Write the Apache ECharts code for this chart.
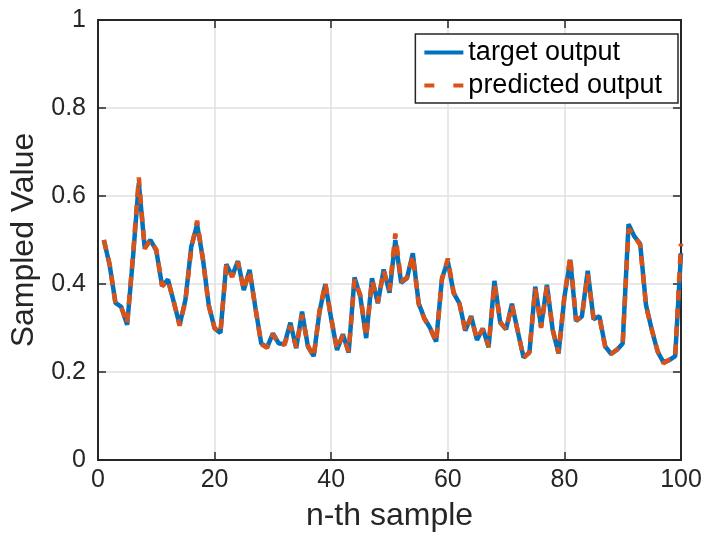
<!DOCTYPE html>
<html>
<head>
<meta charset="utf-8">
<script src="https://cdn.jsdelivr.net/npm/echarts@6/dist/echarts.min.js"></script>
<style>html,body{margin:0;padding:0;background:#fff;}#c{width:706px;height:540px;}</style>
</head>
<body>
<div id="c"></div>
<script>
var sampleIndex = [];
for (var k = 1; k <= 100; k++) sampleIndex.push(k);
var targetOutput = [
0.500,0.443,0.357,0.348,0.307,0.460,0.630,0.483,0.500,0.476,
0.395,0.410,0.359,0.307,0.364,0.485,0.535,0.457,0.352,0.299,
0.289,0.445,0.418,0.452,0.386,0.432,0.346,0.265,0.256,0.288,
0.265,0.264,0.312,0.254,0.337,0.258,0.236,0.337,0.400,0.321,
0.250,0.286,0.244,0.415,0.371,0.277,0.413,0.356,0.433,0.380,
0.500,0.403,0.413,0.470,0.356,0.322,0.299,0.269,0.413,0.452,
0.379,0.356,0.294,0.327,0.273,0.299,0.256,0.407,0.312,0.297,
0.355,0.292,0.233,0.244,0.394,0.303,0.398,0.295,0.242,0.370,
0.455,0.316,0.326,0.430,0.320,0.327,0.258,0.241,0.250,0.265,
0.536,0.508,0.491,0.352,0.295,0.246,0.222,0.227,0.236,0.470
];
var predictedOutput = [
0.500,0.445,0.355,0.346,0.310,0.465,0.642,0.480,0.500,0.478,
0.395,0.408,0.360,0.305,0.362,0.480,0.544,0.455,0.350,0.300,
0.289,0.443,0.416,0.450,0.387,0.430,0.345,0.263,0.255,0.286,
0.264,0.262,0.305,0.256,0.330,0.260,0.234,0.340,0.402,0.322,
0.252,0.284,0.246,0.410,0.375,0.280,0.408,0.358,0.430,0.385,
0.515,0.405,0.415,0.465,0.355,0.320,0.298,0.268,0.410,0.458,
0.381,0.355,0.293,0.325,0.275,0.298,0.258,0.400,0.314,0.296,
0.352,0.293,0.232,0.245,0.390,0.300,0.395,0.296,0.243,0.372,
0.462,0.318,0.325,0.422,0.322,0.325,0.257,0.241,0.251,0.263,
0.525,0.510,0.488,0.350,0.296,0.247,0.220,0.228,0.235,0.492
];
var xTicks = [0, 20, 40, 60, 80, 100];
var yTicks = [0, 0.2, 0.4, 0.6, 0.8, 1];
var seriesNames = ['target output', 'predicted output'];

function pairs(vals) { return sampleIndex.map(function (x, i) { return [x, vals[i]]; }); }

var chart = echarts.init(document.getElementById('c'), null, {renderer: 'canvas'});
var font = 'Liberation Sans, Arial, Helvetica, sans-serif';
var axisCol = '#262626';
var option = {
  backgroundColor: '#fff',
  animation: false,
  grid: {left: 98, right: 25, top: 20, bottom: 80, containLabel: false},
  legend: {
    orient: 'vertical', top: 34, right: 28,
    data: [{name: seriesNames[0]}, {name: seriesNames[1], lineStyle: {type: [10, 19]}}],
    backgroundColor: '#fff', borderColor: '#262626', borderWidth: 1.5,
    padding: [5, 16, 4, 7], itemGap: 6, itemWidth: 39, itemHeight: 14,
    itemStyle: {opacity: 0},
    lineStyle: {width: 4},
    textStyle: {fontFamily: font, fontSize: 27, color: '#000'}
  },
  xAxis: [{
    type: 'value', min: xTicks[0], max: xTicks[xTicks.length - 1], interval: 20,
    name: 'n-th sample', nameLocation: 'middle', nameGap: 40,
    nameTextStyle: {fontFamily: font, fontSize: 32, color: axisCol},
    axisLine: {show: true, onZero: false, lineStyle: {color: axisCol, width: 2}},
    axisTick: {show: true, inside: true, length: 8, lineStyle: {color: axisCol, width: 1.5}},
    axisLabel: {fontFamily: font, fontSize: 25, color: axisCol, margin: 8},
    splitLine: {show: true, lineStyle: {color: '#e0e0e0', width: 1.5}}
  }, {
    type: 'value', position: 'top', min: 0, max: 100, interval: 20,
    axisLine: {show: true, onZero: false, lineStyle: {color: axisCol, width: 2}},
    axisTick: {show: true, inside: true, length: 8, lineStyle: {color: axisCol, width: 1.5}},
    axisLabel: {show: false}, splitLine: {show: false}
  }],
  yAxis: [{
    type: 'value', min: yTicks[0], max: yTicks[yTicks.length - 1], interval: 0.2,
    name: 'Sampled Value', nameLocation: 'middle', nameGap: 50,
    nameTextStyle: {fontFamily: font, fontSize: 32, color: axisCol},
    axisLine: {show: true, onZero: false, lineStyle: {color: axisCol, width: 2}},
    axisTick: {show: true, inside: true, length: 8, lineStyle: {color: axisCol, width: 1.5}},
    axisLabel: {fontFamily: font, fontSize: 25, color: axisCol, margin: 12},
    splitLine: {show: true, lineStyle: {color: '#e0e0e0', width: 1.5}}
  }, {
    type: 'value', position: 'right', min: 0, max: 1, interval: 0.2,
    axisLine: {show: true, onZero: false, lineStyle: {color: axisCol, width: 2}},
    axisTick: {show: true, inside: true, length: 8, lineStyle: {color: axisCol, width: 1.5}},
    axisLabel: {show: false}, splitLine: {show: false}
  }],
  series: [{
    name: seriesNames[0], type: 'line', data: pairs(targetOutput),
    symbol: 'none', z: 3,
    lineStyle: {color: '#0072BD', width: 4.5},
    itemStyle: {color: '#0072BD'}
  }, {
    name: seriesNames[1], type: 'line', data: pairs(predictedOutput),
    symbol: 'none', z: 4,
    lineStyle: {color: '#D95319', width: 4.5, type: [10, 8]},
    itemStyle: {color: '#D95319'}
  }]
};
chart.setOption(option);
</script>
</body>
</html>
